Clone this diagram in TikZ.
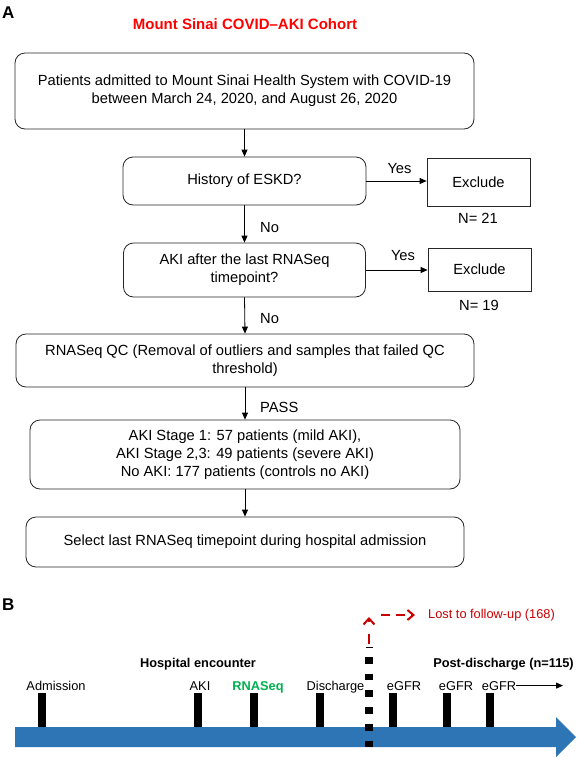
\documentclass[tikz,border=0pt]{standalone}
\usepackage{fontspec}
\setmainfont{Liberation Sans}
\usetikzlibrary{arrows.meta,positioning}
\definecolor{tlblue}{RGB}{46,117,182}
\definecolor{seqgreen}{RGB}{0,176,80}
\definecolor{lostred}{RGB}{200,0,0}

\begin{document}
\begin{tikzpicture}[x=1pt,y=-1pt,
		box/.style={draw=black!85,line width=0.8pt,rounded corners=10pt,align=center,inner sep=0pt,font=\fontsize{14.7}{18}\selectfont},
		exbox/.style={draw=black!85,line width=0.8pt,inner sep=0pt,font=\fontsize{14.7}{18}\selectfont},
		lbl/.style={anchor=base,inner sep=0pt,font=\fontsize{14.7}{18}\selectfont},
		flow/.style={line width=0.8pt,-{Triangle[length=7pt,width=6pt]}},
		tl/.style={anchor=base,inner sep=0pt,font=\fontsize{12.8}{15}\selectfont},
		tlhead/.style={tl,font=\bfseries\fontsize{12.8}{15}\selectfont},
		panel/.style={anchor=base west,inner sep=0pt,font=\bfseries\fontsize{17}{20}\selectfont}]
			
			\useasboundingbox (0,0) rectangle (576,758);
			
			% panel A: cohort
			\node[panel] (pA) at (2,18) {A};
			\node[anchor=base,inner sep=0pt,text=red,font=\bfseries\fontsize{15}{18}\selectfont] (title) at (245,29) {Mount Sinai COVID–AKI Cohort};
			
			\node[box,minimum width=459pt,minimum height=76pt] (cohort) at (244.5,91) {Patients admitted to Mount Sinai Health System with COVID-19\\between March 24, 2020, and August 26, 2020};
			\node[box,minimum width=243pt,minimum height=48pt] (eskd) at (244.5,181) {History of ESKD?};
			\node[exbox,minimum width=103pt,minimum height=48pt] (excl1) at (478.5,182) {Exclude};
			\node[box,minimum width=242pt,minimum height=54pt] (lateaki) at (244.5,270) {AKI after the last RNASeq\\timepoint?};
			\node[exbox,minimum width=103pt,minimum height=43pt] (excl2) at (479.5,269.5) {Exclude};
			\node[box,minimum width=458pt,minimum height=53pt] (qc) at (245,360.5) {RNASeq QC (Removal of outliers and samples that failed QC\\threshold)};
			\node[box,minimum width=430pt,minimum height=69pt] (stages) at (245,454.5) {AKI Stage 1: 57 patients (mild AKI),\\AKI Stage 2,3: 49 patients (severe AKI)\\No AKI: 177 patients (controls no AKI)};
			\node[box,minimum width=438pt,minimum height=50pt] (lastseq) at (245,542) {Select last RNASeq timepoint during hospital admission};
			
			\draw[flow] (cohort.south) -- (eskd.north);
			\draw[flow] (eskd.south) -- (lateaki.north);
			\draw[flow] (lateaki.south) -- (qc.north);
			\draw[flow] (qc.south) -- (stages.north);
			\draw[flow] (stages.south) -- (lastseq.north);
			\draw[flow] (eskd.east) -- (eskd.east -| excl1.west);
			\draw[flow] (lateaki.east) -- (lateaki.east -| excl2.west);
			
			\node[lbl] (yes1) at (399.5,173) {Yes};
			\node[lbl] (yes2) at (403,260) {Yes};
			\node[lbl] (n1) at (478,223) {N= 21};
			\node[lbl] (n2) at (479,310) {N= 19};
			\node[lbl,anchor=base west] (no1) at (260,232) {No};
			\node[lbl,anchor=base west] (no2) at (260,323) {No};
			\node[lbl,anchor=base west] (pass) at (260,412) {PASS};
			
			% panel B: timeline
			\node[panel] (pB) at (2,610) {B};
			
			\fill[tlblue] (15,727) -- (556,727) -- (556,717) -- (576,737) -- (556,757) -- (556,747) -- (15,747) -- cycle;
			
			\foreach \x in {41.5,198,254,320,393,447,490}
				\fill (\x-4,693) rectangle (\x+4,727);
			
			\node[tlhead] (hosp) at (198,667) {Hospital encounter};
			\node[tlhead] (post) at (503.5,667) {Post-discharge (n=115)};
			
			\node[tl] (adm) at (56,690) {Admission};
			\node[tl] (aki) at (200,690) {AKI};
			\node[tlhead,text=seqgreen] (seq) at (258,690) {RNASeq};
			\node[tl] (disc) at (335.5,690) {Discharge};
			\node[tl] (egfra) at (404,690) {eGFR};
			\node[tl] (egfrb) at (456,690) {eGFR};
			\node[tl] (egfrc) at (499,690) {eGFR};
			
			\coordinate (fwd) at (563,686);
			\draw[line width=0.8pt,-{Triangle[length=7pt,width=6pt]}] (egfrc.east) -- (egfrc.east -| fwd);
			
			% cut at discharge
			\draw[line width=7.5pt,dash pattern=on 6.7pt off 10pt] (369,657) -- (369,747);
			\draw[line width=0.8pt] (365.5,647) -- (372.5,647);
			
			\coordinate (cut) at (369,644);
			\coordinate (cuttop) at (369,617);
			\coordinate (lostA) at (381,615);
			\coordinate (lostB) at (415,615);
			\draw[lostred,line width=2pt,dash pattern=on 10pt off 12pt,-{Straight Barb[length=6pt,width=11pt]}] (cut) -- (cuttop);
			\draw[lostred,line width=2pt,dash pattern=on 9pt off 6pt,-{Straight Barb[length=6pt,width=10pt]}] (lostA) -- (lostB);
			\node[tl,anchor=base west,text=lostred] (lost) at (428,618) {Lost to follow-up (168)};
			
		\end{tikzpicture}
\end{document}
